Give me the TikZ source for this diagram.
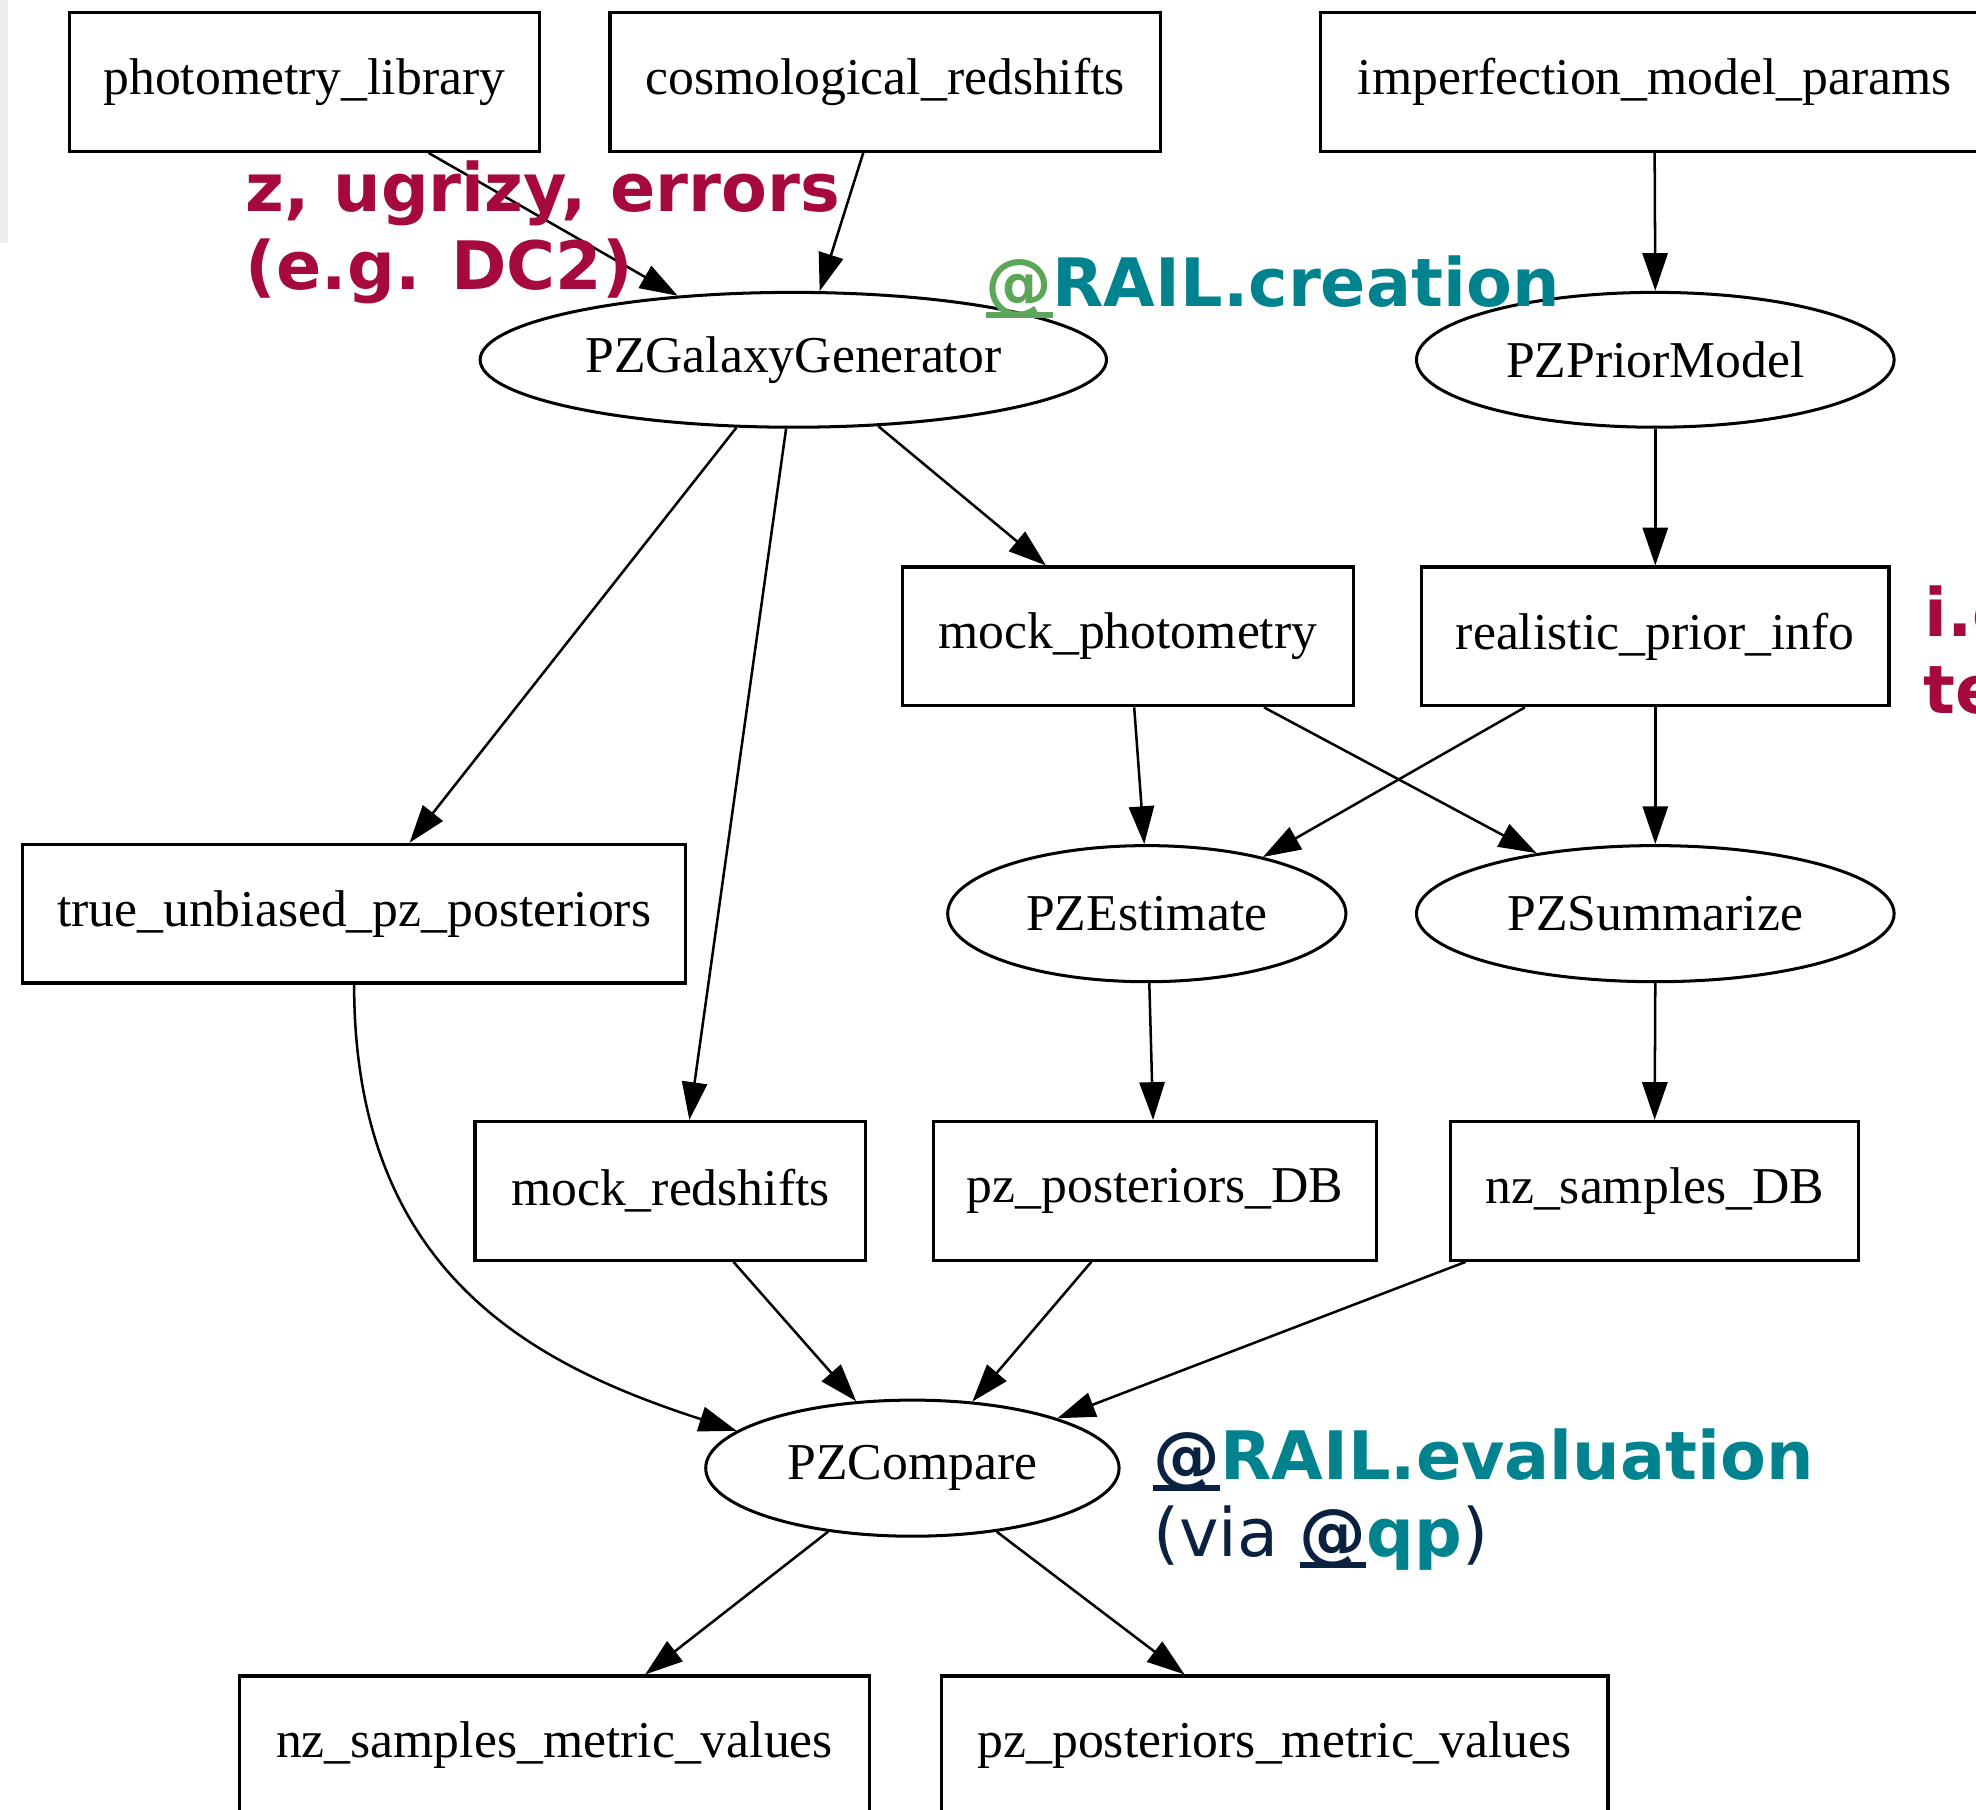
\documentclass[tikz,border=0pt]{standalone}
\usepackage{fontspec}
\setmainfont{Liberation Serif}
\newfontfamily\annot{DejaVu Sans}
\usetikzlibrary{shapes.geometric,arrows.meta}
\definecolor{descred}{HTML}{A6093D}
\definecolor{railteal}{HTML}{00838F}
\definecolor{atgreen}{HTML}{5CA65A}
\definecolor{navy}{HTML}{0A2240}
\newcommand\ulat[1]{{\bfseries\color{#1}\setbox0\hbox{@}\rlap{\rule[-0.17em]{\wd0}{0.09em}}\box0}}
\begin{document}
\begin{tikzpicture}[x=1pt,y=-1pt,
  every node/.style={font=\fontsize{41}{49}\selectfont},
  datab/.style={draw,line width=2.6pt,rectangle,minimum height=110pt,inner sep=0pt},
  procb/.style={draw,line width=2.4pt,ellipse,minimum height=107pt,inner sep=0pt},
  flow/.style={line width=2pt,-{Triangle[length=30pt,width=20pt]}},
  annotxt/.style={anchor=base west,inner sep=0pt,font=\annot\fontsize{53}{61}\selectfont\bfseries}
]
\useasboundingbox (0,0) rectangle (1568,1436);
\fill[gray!13] (0,0) rectangle (6,193);

% data boxes
\node[datab,minimum width=373pt] (pl) at (241.5,65) {photometry\_library};
\node[datab,minimum width=437pt] (cr) at (702.5,65) {cosmological\_redshifts};
\node[datab,minimum width=530pt] (imp) at (1313,65) {imperfection\_model\_params};
\node[datab,minimum width=358pt] (mp) at (895,505) {mock\_photometry};
\node[datab,minimum width=371pt] (rpi) at (1313.5,505) {realistic\_prior\_info};
\node[datab,minimum width=526pt] (tup) at (281,725) {true\_unbiased\_pz\_posteriors};
\node[datab,minimum width=310pt] (mr) at (532,945) {mock\_redshifts};
\node[datab,minimum width=351pt] (ppdb) at (916.5,945) {pz\_posteriors\_DB};
\node[datab,minimum width=324pt] (nsdb) at (1313,945) {nz\_samples\_DB};
\node[datab,minimum width=500pt] (nsmv) at (440,1385) {nz\_samples\_metric\_values};
\node[datab,minimum width=529pt] (ppmv) at (1011.5,1385) {pz\_posteriors\_metric\_values};

% process ellipses
\node[procb,minimum width=497pt] (pzg) at (629.5,285.5) {PZGalaxyGenerator};
\node[procb,minimum width=379pt] (pzp) at (1313.5,285.5) {PZPriorModel};
\node[procb,minimum width=316pt,minimum height=108pt] (pze) at (910,725) {PZEstimate};
\node[procb,minimum width=379pt,minimum height=108pt] (pzs) at (1313.5,725) {PZSummarize};
\node[procb,minimum width=328pt,minimum height=108pt] (pzc) at (724,1165) {PZCompare};

% connectors
\draw[flow] ([xshift=98.5pt]pl.south) -- (pzg.151);
\draw[flow] ([xshift=-17.5pt]cr.south) -- (pzg.69);
\draw[flow] (imp.south) -- (pzp.north);
\draw[flow] (pzg.230) -- ([xshift=44pt]tup.north);
\draw[flow] (pzg.264) -- ([xshift=15pt]mr.north);
\draw[flow] (pzg.322) -- ([xshift=-65pt]mp.north);
\draw[flow] (pzp.south) -- (rpi.north);
\draw[flow] ([xshift=5pt]mp.south) -- ([xshift=-2pt]pze.north);
\draw[flow] ([xshift=108pt]mp.south) -- (pzs.153);
\draw[flow] ([xshift=-103.5pt]rpi.south) -- (pze.26);
\draw[flow] (rpi.south) -- (pzs.north);
\draw[flow] ([xshift=2pt]pze.south) -- ([xshift=-1.5pt]ppdb.north);
\draw[flow] (pzs.south) -- (nsdb.north);
\draw[flow] (tup.south) .. controls +(0,230) and +(-160,-52) .. (pzc.168);
\draw[flow] ([xshift=50pt]mr.south) -- (pzc.130);
\draw[flow] ([xshift=-50.5pt]ppdb.south) -- (pzc.48);
\draw[flow] ([xshift=-150pt]nsdb.south) -- (pzc.19);
\draw[flow] (pzc.217) -- ([xshift=72pt]nsmv.north);
\draw[flow] (pzc.323) -- ([xshift=-71.5pt]ppmv.north);

% annotations
\node[annotxt,text=descred] (ann1) at (195,168) {z, ugrizy, errors};
\node[annotxt,text=descred] (ann2) at (195,230) {(e.g. DC2)};
\node[annotxt] (crea) at (782,243) {\ulat{atgreen}\textcolor{railteal}{RAIL.creation}};
\node[annotxt,text=descred] (ie1) at (1527,505) {i.e.};
\node[annotxt,text=descred] (ie2) at (1526,566) {te};
\node[annotxt] (eval) at (915,1174) {\ulat{navy}\textcolor{railteal}{RAIL.evaluation}};
\node[annotxt,font=\annot\fontsize{53}{61}\selectfont,text=navy] (via) at (915,1235) {(via \ulat{navy}\textcolor{railteal}{\bfseries qp})};
\end{tikzpicture}
\end{document}
